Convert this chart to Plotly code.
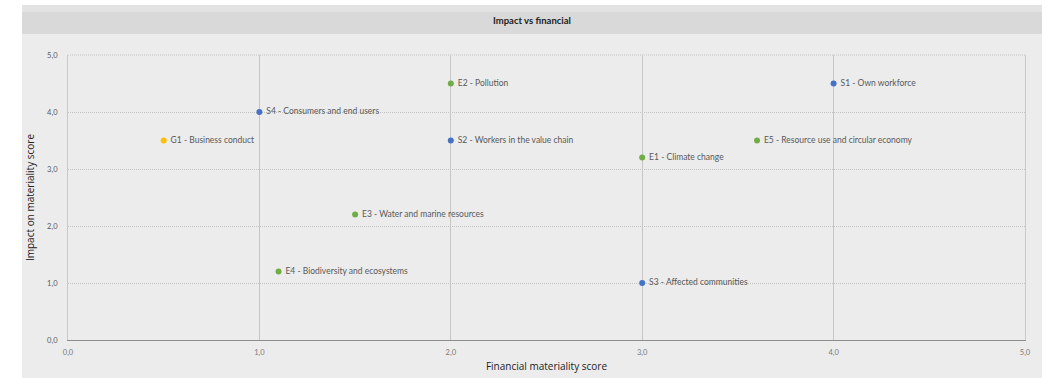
import plotly.graph_objects as go

labels = ["G1 - Business conduct", "S4 - Consumers and end users", "E2 - Pollution",
          "S2 - Workers in the value chain", "E1 - Climate change",
          "E5 - Resource use and circular economy", "S1 - Own workforce",
          "E3 - Water and marine resources", "E4 - Biodiversity and ecosystems",
          "S3 - Affected communities"]
financial = [0.5, 1.0, 2.0, 2.0, 3.0, 3.6, 4.0, 1.5, 1.1, 3.0]
impact = [3.5, 4.0, 4.5, 3.5, 3.2, 3.5, 4.5, 2.2, 1.2, 1.0]
group_colors = {"E": "#70ad47", "S": "#4472c4", "G": "#ffc000"}
colors = [group_colors[l[0]] for l in labels]
tick_vals = [0, 1, 2, 3, 4, 5]

W, H = 1046, 378
L, R, T, B = 68, 21, 55, 38
pw, ph = W - L - R, H - T - B

def px(x):
    return (x - L) / pw

def py(y):
    return (H - B - y) / ph

fig = go.Figure()
fig.add_trace(go.Scatter(
    x=financial, y=impact, mode="markers+text", text=[" " + l for l in labels],
    textposition="middle right",
    textfont=dict(family="Lato, Open Sans, sans-serif", size=8.5, color="#595959"),
    marker=dict(size=6, color=colors), showlegend=False, cliponaxis=False,
    hoverinfo="skip"))

shapes = [
    dict(type="rect", xref="paper", yref="paper", x0=px(22), x1=px(1042), y0=py(378), y1=py(5),
         fillcolor="#ececec", line=dict(width=0), layer="below"),
    dict(type="rect", xref="paper", yref="paper", x0=px(22), x1=px(1042), y0=py(12), y1=py(5),
         fillcolor="#e3e3e3", line=dict(width=0), layer="below"),
    dict(type="rect", xref="paper", yref="paper", x0=px(22), x1=px(1042), y0=py(34), y1=py(12),
         fillcolor="#d9d9d9", line=dict(width=0), layer="below"),
    dict(type="line", xref="paper", yref="paper", x0=0, x1=1, y0=1, y1=1,
         line=dict(color="#c4c4c4", width=1, dash="1px,1px"), layer="above"),
]

fig.update_layout(
    width=W, height=H, margin=dict(l=L, r=R, t=T, b=B, autoexpand=False),
    paper_bgcolor="white", plot_bgcolor="#ececec",
    separators=", ", shapes=shapes,
    annotations=[dict(text="<b>Impact vs financial</b>", xref="paper", yref="paper",
                      x=px(532), y=py(20), showarrow=False, xanchor="center", yanchor="middle",
                      font=dict(family="Lato, Open Sans, sans-serif", size=9.5, color="#222222"))],
    xaxis=dict(range=[0, 5], tickvals=tick_vals, tickformat=".1f", showgrid=True,
               gridcolor="#c6c6c6", gridwidth=1, zeroline=False, showline=True,
               linecolor="#8c8c8c", linewidth=1, ticks="outside", ticklen=5,
               tickcolor="rgba(0,0,0,0)", automargin=False,
               tickfont=dict(family="Lato, Open Sans, sans-serif", size=7.5, color="#7a7a7a"),
               title=dict(text="Financial materiality score", standoff=6,
                          font=dict(family="Open Sans, sans-serif", size=10, color="#222222"))),
    yaxis=dict(range=[0, 5], tickvals=tick_vals, tickformat=".1f", showgrid=True,
               gridcolor="#c4c4c4", griddash="1px,1px", gridwidth=1, zeroline=False,
               showline=True, linecolor="#c9c9c9", mirror=True, linewidth=1,
               ticks="outside", ticklen=8, tickcolor="rgba(0,0,0,0)", automargin=False,
               tickfont=dict(family="Lato, Open Sans, sans-serif", size=7.5, color="#595959"),
               title=dict(text="Impact on materiality score", standoff=10,
                          font=dict(family="Open Sans, sans-serif", size=10, color="#222222"))),
)
fig.write_html("out.html")
